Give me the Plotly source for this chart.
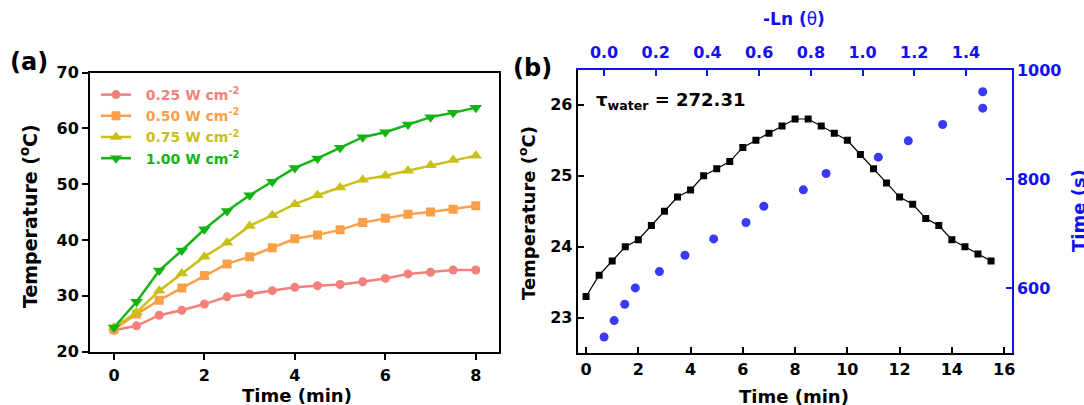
import plotly.graph_objects as go

# ---------------- data ----------------
# (a) photothermal heating curves at four power densities
time_a = [0, 0.5, 1, 1.5, 2, 2.5, 3, 3.5, 4, 4.5, 5, 5.5, 6, 6.5, 7, 7.5, 8]
temp_025 = [23.8, 24.6, 26.5, 27.4, 28.5, 29.8, 30.3, 30.9, 31.5, 31.8, 32.0, 32.5, 33.1, 33.9, 34.2, 34.6, 34.6]
temp_050 = [24.0, 26.7, 29.2, 31.4, 33.6, 35.7, 37.0, 38.6, 40.2, 40.9, 41.8, 43.1, 43.9, 44.6, 45.0, 45.5, 46.1]
temp_075 = [24.3, 27.0, 30.9, 34.0, 37.0, 39.5, 42.5, 44.4, 46.4, 48.0, 49.4, 50.8, 51.5, 52.4, 53.4, 54.3, 55.1]
temp_100 = [24.3, 28.9, 34.5, 38.1, 41.9, 45.2, 48.0, 50.4, 52.9, 54.6, 56.5, 58.4, 59.3, 60.7, 62.0, 62.8, 63.7]
series_names = ["0.25 W cm<sup>-2</sup>", "0.50 W cm<sup>-2</sup>",
                "0.75 W cm<sup>-2</sup>", "1.00 W cm<sup>-2</sup>"]

# (b) heating / cooling of water and cooling-time fit
time_b = [0, 0.5, 1, 1.5, 2, 2.5, 3, 3.5, 4, 4.5, 5, 5.5, 6, 6.5, 7, 7.5,
          8, 8.5, 9, 9.5, 10, 10.5, 11, 11.5, 12, 12.5, 13, 13.5, 14, 14.5, 15, 15.5]
temp_b = [23.3, 23.6, 23.8, 24.0, 24.1, 24.3, 24.5, 24.7, 24.8, 25.0, 25.1, 25.2, 25.4, 25.5, 25.6, 25.7,
          25.8, 25.8, 25.7, 25.6, 25.5, 25.3, 25.1, 24.9, 24.7, 24.6, 24.4, 24.3, 24.1, 24.0, 23.9, 23.8]
neg_ln_theta = [0.0, 0.039, 0.080, 0.121, 0.214, 0.313, 0.424, 0.549, 0.618,
                0.771, 0.859, 1.061, 1.177, 1.310, 1.465, 1.465]
cool_time_s = [510, 540, 570, 600, 630, 660, 690, 720, 750, 780, 810, 840, 870, 900, 930, 960]
tau_water = "272.31"

# ---------------- styling ----------------
W, H = 1084, 405
FONT = "DejaVu Sans, Liberation Sans, Arial, sans-serif"
BLUE = "#1010F0"
DOT_BLUE = "#3A3AF5"
colors = ["#F4807C", "#FBA048", "#C8C019", "#14B414"]
symbols = ["circle", "square", "triangle-up", "triangle-down"]
msize = [9, 9, 11, 11]


def px_x(p):
    return p / W


def px_y(p):
    return 1 - p / H


fig = go.Figure()

for vals, name, col, sym, ms in zip([temp_025, temp_050, temp_075, temp_100],
                                    series_names, colors, symbols, msize):
    fig.add_trace(go.Scatter(
        x=time_a, y=vals, mode="lines+markers",
        name=f"<span style='color:{col}'>&nbsp;&nbsp;{name}</span>",
        line=dict(color=col, width=2.5),
        marker=dict(symbol=sym, size=ms, color=col),
        xaxis="x", yaxis="y", showlegend=True,
    ))

fig.add_trace(go.Scatter(
    x=time_b, y=temp_b, mode="lines+markers",
    line=dict(color="black", width=1.2),
    marker=dict(symbol="square", size=7, color="black"),
    xaxis="x2", yaxis="y2", showlegend=False,
))
fig.add_trace(go.Scatter(
    x=neg_ln_theta, y=cool_time_s, mode="markers",
    marker=dict(symbol="circle", size=9, color=DOT_BLUE),
    xaxis="x3", yaxis="y3", showlegend=False,
))

tick_font = dict(family=FONT, size=16, color="black", weight="bold")
blue_tick_font = dict(family=FONT, size=16, color=BLUE, weight="bold")
ax_common = dict(showgrid=False, zeroline=False, showline=True, linewidth=2,
                 tickwidth=2, ticklen=6, automargin=False)

fig.update_layout(
    width=W, height=H,
    margin=dict(l=0, r=0, t=0, b=0),
    template="none",
    paper_bgcolor="white", plot_bgcolor="rgba(0,0,0,0)",
    font=dict(family=FONT),
    xaxis=dict(domain=[px_x(90), px_x(499.3)], anchor="y", range=[-0.53, 8.52],
               tickvals=[0, 2, 4, 6, 8], ticks="outside", mirror=True, ticklabelstandoff=2,
               linecolor="black", tickcolor="black", tickfont=tick_font, **ax_common),
    yaxis=dict(domain=[px_y(351.5), px_y(72.5)], anchor="x", range=[20, 70],
               tickvals=[20, 30, 40, 50, 60, 70], ticks="outside", mirror=True,
               linecolor="black", tickcolor="black", tickfont=tick_font, **ax_common),
    xaxis2=dict(domain=[px_x(577.7), px_x(1011.7)], anchor="y2", range=[-0.32, 16.29],
                tickvals=list(range(0, 17, 2)), ticks="inside",
                linecolor="black", tickcolor="black", tickfont=tick_font, **ax_common),
    yaxis2=dict(domain=[px_y(353.3), px_y(70)], anchor="x2", range=[22.5, 26.49],
                tickvals=[23, 24, 25, 26], ticks="inside",
                linecolor="black", tickcolor="black", tickfont=tick_font, **ax_common),
    xaxis3=dict(overlaying="x2", anchor="y2", side="top", range=[-0.102, 1.577],
                tickvals=[0, 0.2, 0.4, 0.6, 0.8, 1.0, 1.2, 1.4], tickformat=".1f",
                ticks="inside", ticklabelstandoff=4, linecolor=BLUE, tickcolor=BLUE,
                tickfont=blue_tick_font, **ax_common),
    yaxis3=dict(overlaying="y2", anchor="x2", side="right", range=[480, 1000],
                tickvals=[600, 800, 1000], ticks="inside", linecolor=BLUE, tickcolor=BLUE,
                tickfont=blue_tick_font, **ax_common),
    legend=dict(x=px_x(96), y=px_y(79), xanchor="left", yanchor="top",
                bgcolor="rgba(0,0,0,0)", borderwidth=0,
                font=dict(family=FONT, size=14, weight="bold"),
                tracegroupgap=0, itemwidth=30),
)

title_font = dict(family=FONT, size=18, color="black", weight="bold")
annotations = [
    dict(text="(a)", x=px_x(29), y=px_y(62), font=dict(family=FONT, size=24, color="black", weight="bold")),
    dict(text="(b)", x=px_x(532), y=px_y(68), font=dict(family=FONT, size=24, color="black", weight="bold")),
    dict(text="Temperature (<sup>o</sup>C)", x=px_x(29), y=px_y(216), textangle=-90,
         font=dict(family=FONT, size=19, color="black", weight="bold")),
    dict(text="Time (min)", x=px_x(297), y=px_y(395), font=title_font),
    dict(text="Temperature (<sup>o</sup>C)", x=px_x(527), y=px_y(213), textangle=-90, font=title_font),
    dict(text="Time (min)", x=px_x(794), y=px_y(396), font=title_font),
    dict(text="<b>-Ln (</b>θ<b>)</b>", x=px_x(794), y=px_y(19),
         font=dict(family=FONT, size=17, color=BLUE, weight="normal")),
    dict(text="Time (s)", x=px_x(1078), y=px_y(211), textangle=-90,
         font=dict(family=FONT, size=18, color=BLUE, weight="bold")),
    dict(text=f"τ<sub>water</sub> = {tau_water}", x=px_x(594), y=px_y(101), xanchor="left",
         font=dict(family=FONT, size=18, color="black", weight="bold")),
]
for a in annotations:
    a.setdefault("xanchor", "center")
    fig.add_annotation(xref="paper", yref="paper", showarrow=False, yanchor="middle", **a)

fig.write_html("out.html")
